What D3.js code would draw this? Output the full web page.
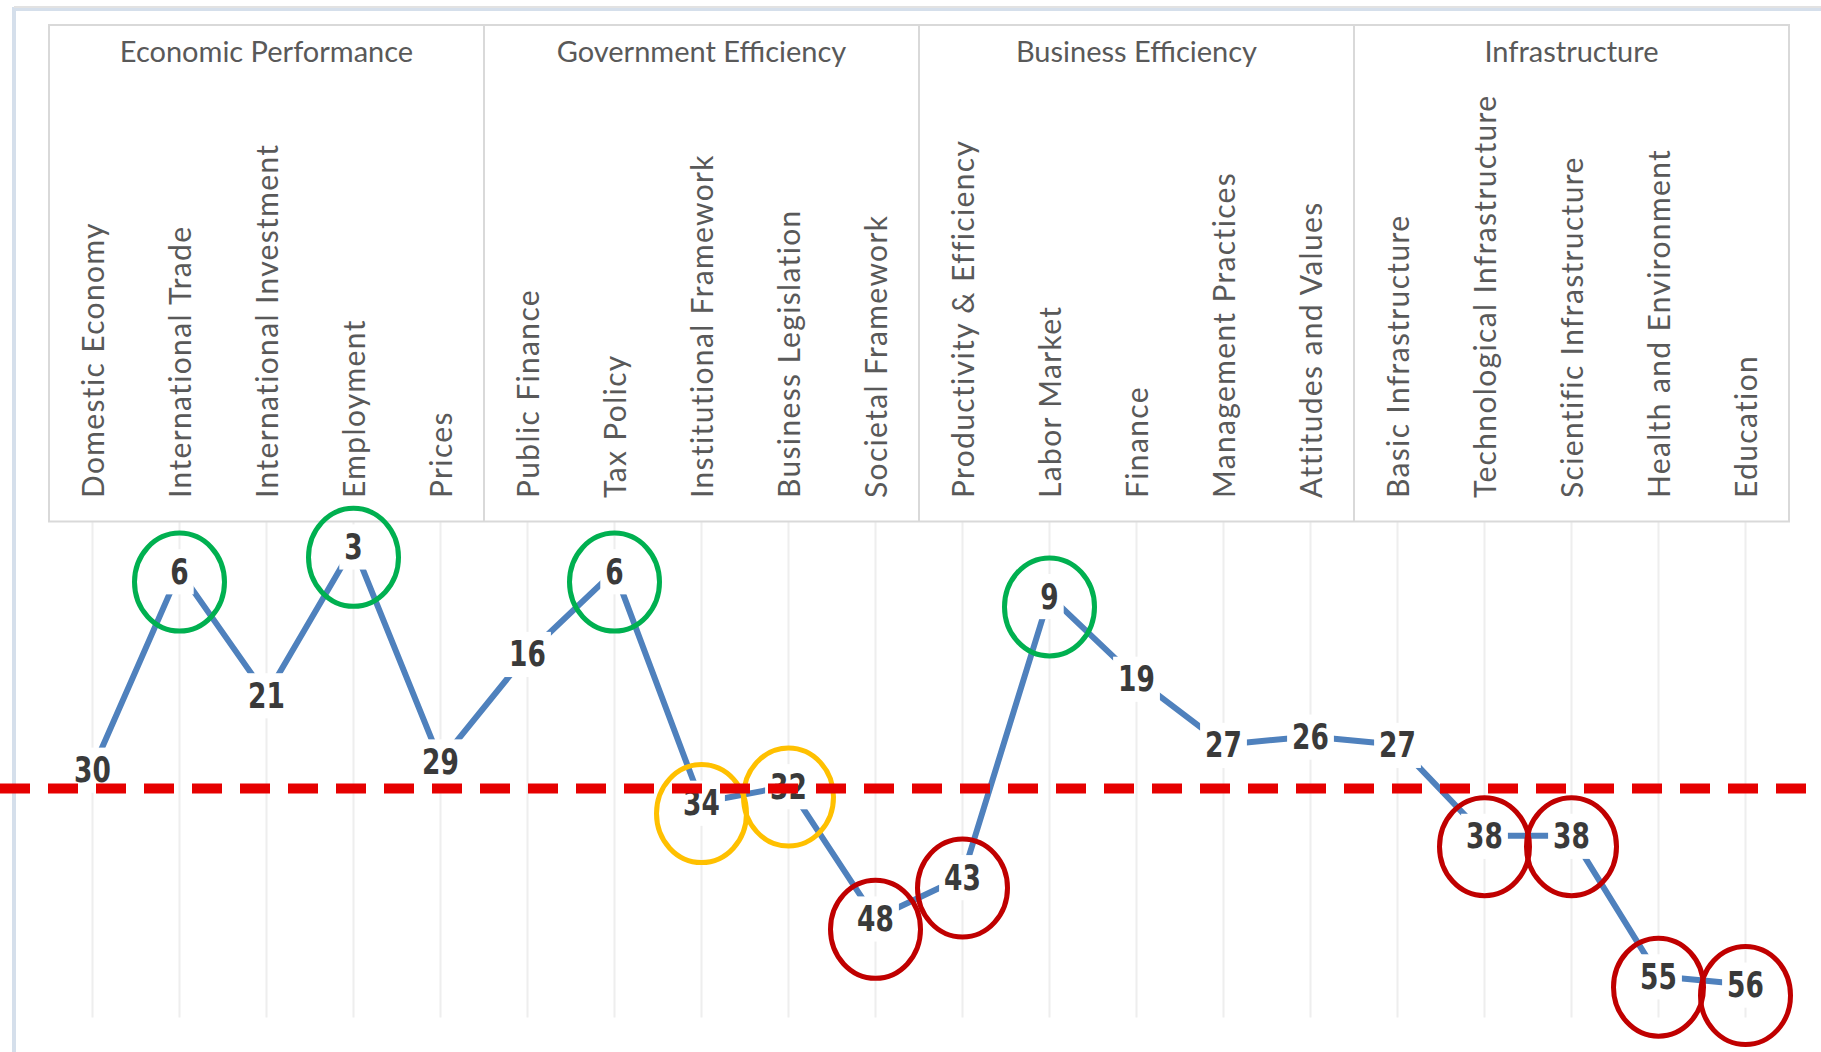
<!DOCTYPE html>
<html>
<head>
<meta charset="utf-8">
<script src="https://cdn.jsdelivr.net/npm/d3@7"></script>
<style>
  html, body { margin: 0; padding: 0; background: #ffffff; }
  svg { display: block; }
</style>
</head>
<body>
<svg id="chart" width="1821" height="1052"></svg>
<script>
// ---- data ----
const groups = ["Economic Performance", "Government Efficiency", "Business Efficiency", "Infrastructure"];
const groupSizes = [5, 5, 5, 5];
const categories = [
  "Domestic Economy", "International Trade", "International Investment", "Employment", "Prices",
  "Public Finance", "Tax Policy", "Institutional Framework", "Business Legislation", "Societal Framework",
  "Productivity & Efficiency", "Labor Market", "Finance", "Management Practices", "Attitudes and Values",
  "Basic Infrastructure", "Technological Infrastructure", "Scientific Infrastructure", "Health and Environment", "Education"
];
const ranks = [30, 6, 21, 3, 29, 16, 6, 34, 32, 48, 43, 9, 19, 27, 26, 27, 38, 38, 55, 56];
// highlight status per category: "good", "warn", "bad" or ""
const highlight = ["", "good", "", "good", "", "", "good", "warn", "warn", "bad",
                   "bad", "good", "", "", "", "", "bad", "bad", "bad", "bad"];
const referenceRank = [32.3];
const rankDomain = [0, 60];

// ---- layout ----
const svg = d3.select("#chart");
const W = 1821, H = 1052;
const headerTop = 25, plotTop = 521.5, plotBottom = 1017.5;
const x = d3.scaleBand().domain(categories).range([49, 1789]).padding(0);
const y = d3.scaleLinear().domain(rankDomain).range([plotTop, plotBottom]);
const cx = c => x(c) + x.bandwidth() / 2;
const colors = { good: "#00b050", warn: "#ffc000", bad: "#c00000" };

// outer frame
svg.append("rect").attr("x", 14).attr("y", 9).attr("width", W + 20).attr("height", H + 20)
  .attr("fill", "none").attr("stroke", "#d5dfeb").attr("stroke-width", 4);
svg.append("line").attr("x1", 14).attr("x2", W).attr("y1", 7).attr("y2", 7)
  .attr("stroke", "#e2e2e2").attr("stroke-width", 2);

// vertical gridlines
svg.append("g").selectAll("line").data(categories).join("line")
  .attr("x1", d => cx(d)).attr("x2", d => cx(d))
  .attr("y1", plotTop).attr("y2", plotBottom)
  .attr("stroke", "#eeeeee").attr("stroke-width", 2);

// header box
const [x0, x1] = x.range();
svg.append("rect").attr("x", x0).attr("y", headerTop).attr("width", x1 - x0).attr("height", plotTop - headerTop)
  .attr("fill", "none").attr("stroke", "#d9d9d9").attr("stroke-width", 2);

// group dividers + titles
let start = 0;
groups.forEach((g, i) => {
  const first = categories[start], last = categories[start + groupSizes[i] - 1];
  const gx0 = x(first), gx1 = x(last) + x.bandwidth();
  if (i > 0) {
    svg.append("line").attr("x1", gx0).attr("x2", gx0).attr("y1", headerTop).attr("y2", plotTop)
      .attr("stroke", "#d9d9d9").attr("stroke-width", 2);
  }
  svg.append("text").attr("x", (gx0 + gx1) / 2).attr("y", 62)
    .attr("text-anchor", "middle").attr("fill", "#595959")
    .style("font-family", "Lato, 'Open Sans', sans-serif").style("font-size", "29px")
    .text(g);
  start += groupSizes[i];
});

// category labels (rotated)
svg.append("g").selectAll("text").data(categories).join("text")
  .attr("transform", d => `translate(${cx(d) + 11},498) rotate(-90)`)
  .attr("text-anchor", "start").attr("fill", "#595959")
  .style("font-family", "Lato, 'Open Sans', sans-serif").style("font-size", "30px")
  .style("letter-spacing", "1.35px")
  .text(d => d);

// rank line
const pts = categories.map((c, i) => ({ c, v: ranks[i], h: highlight[i] }));
svg.append("path").datum(pts)
  .attr("d", d3.line().x(d => cx(d.c)).y(d => y(d.v)))
  .attr("fill", "none").attr("stroke", "#4f81bd").attr("stroke-width", 6)
  .attr("stroke-linejoin", "round");

// data labels with white backgrounds
const lab = svg.append("g").selectAll("g").data(pts).join("g")
  .attr("transform", d => `translate(${cx(d.c)},${y(d.v)})`);
lab.append("rect");
lab.append("text")
  .attr("text-anchor", "middle").attr("dy", "0.36em").attr("fill", "#3a3a3a")
  .attr("transform", "scale(0.84,1)")
  .style("font-family", "'Liberation Sans Narrow', 'DejaVu Sans Condensed', 'Roboto', sans-serif")
  .style("font-weight", "bold").style("font-size", "35px")
  .text(d => d.v);
lab.each(function () {
  const g = d3.select(this);
  const bb = g.select("text").node().getBBox();
  const w = bb.width * 0.84;
  g.select("rect").attr("x", -w / 2 - 5).attr("y", bb.y - 2)
    .attr("width", w + 10).attr("height", bb.height + 4).attr("fill", "#ffffff");
});

// highlight ellipses
svg.append("g").selectAll("ellipse").data(pts.filter(d => d.h)).join("ellipse")
  .attr("cx", d => cx(d.c)).attr("cy", d => y(d.v) + 11)
  .attr("rx", 45).attr("ry", 49)
  .attr("fill", "none").attr("stroke", d => colors[d.h]).attr("stroke-width", 5);

// reference dashed line
svg.append("g").selectAll("line").data(referenceRank).join("line")
  .attr("x1", 0).attr("x2", W).attr("y1", d => y(d)).attr("y2", d => y(d))
  .attr("stroke", "#e60000").attr("stroke-width", 10).attr("stroke-dasharray", "30,18");
</script>
</body>
</html>
